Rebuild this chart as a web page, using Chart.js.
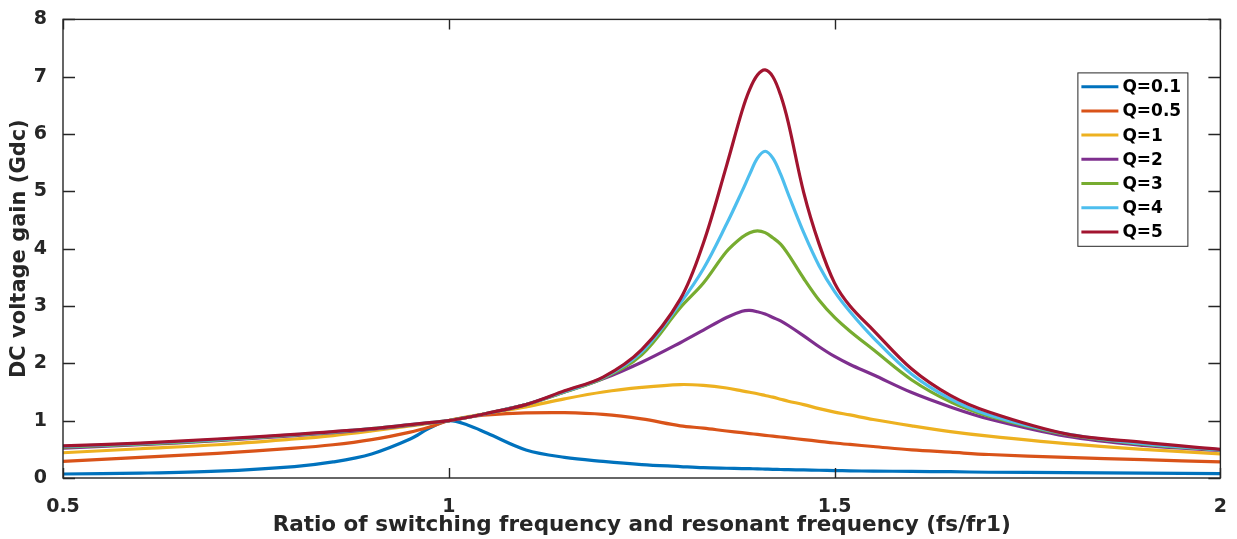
<!DOCTYPE html>
<html>
<head>
<meta charset="utf-8">
<script src="https://cdn.jsdelivr.net/npm/chart.js@4"></script>
<style>
  html, body { margin: 0; padding: 0; background: #fff; }
  #wrap { width: 1237px; height: 539px; }
</style>
</head>
<body>
<div id="wrap"><canvas id="gain" width="1237" height="539"></canvas></div>
<script>
// normalized frequency fs/fr1 (shared by all curves)
const xs = [0.5, 0.6, 0.7, 0.8, 0.85, 0.9, 0.95, 0.975, 1.0, 1.025, 1.05, 1.1, 1.15, 1.2, 1.25,
  1.3, 1.33, 1.36, 1.38, 1.39, 1.4, 1.41, 1.42, 1.43, 1.44, 1.46, 1.48, 1.5, 1.52, 1.55, 1.6, 1.65, 1.7, 1.8, 1.9, 2.0];

// gain curves
const q01 = [0.07, 0.085, 0.12, 0.2, 0.28, 0.42, 0.68, 0.87, 1.0, 0.92, 0.78, 0.49, 0.36, 0.29, 0.235,
  0.2, 0.18, 0.17, 0.165, 0.162, 0.16, 0.155, 0.15, 0.148, 0.145, 0.14, 0.135, 0.13, 0.125, 0.12, 0.115, 0.11, 0.1, 0.095, 0.085, 0.075];
const q05 = [0.29, 0.36, 0.43, 0.52, 0.58, 0.67, 0.8, 0.89, 1.0, 1.06, 1.1, 1.135, 1.14, 1.11, 1.03,
  0.91, 0.87, 0.82, 0.79, 0.775, 0.76, 0.745, 0.73, 0.715, 0.7, 0.67, 0.64, 0.61, 0.585, 0.55, 0.49, 0.45, 0.41, 0.36, 0.32, 0.28];
const q1 = [0.44, 0.51, 0.58, 0.68, 0.74, 0.82, 0.91, 0.955, 1.0, 1.07, 1.13, 1.24, 1.38, 1.5, 1.58,
  1.63, 1.615, 1.57, 1.52, 1.495, 1.47, 1.44, 1.41, 1.375, 1.34, 1.28, 1.21, 1.15, 1.1, 1.02, 0.91, 0.81, 0.73, 0.6, 0.5, 0.42];
const q2 = [0.52, 0.58, 0.65, 0.74, 0.79, 0.85, 0.92, 0.96, 1.0, 1.06, 1.13, 1.28, 1.5, 1.73, 2.02,
  2.36, 2.58, 2.8, 2.91, 2.925, 2.9, 2.86, 2.8, 2.74, 2.66, 2.48, 2.29, 2.12, 1.98, 1.8, 1.49, 1.24, 1.03, 0.73, 0.57, 0.48];
const q3 = [0.54, 0.59, 0.66, 0.75, 0.8, 0.86, 0.925, 0.963, 1.0, 1.06, 1.13, 1.28, 1.5, 1.74, 2.15,
  2.97, 3.4, 3.95, 4.2, 4.28, 4.31, 4.28, 4.19, 4.08, 3.9, 3.48, 3.1, 2.8, 2.56, 2.24, 1.71, 1.33, 1.08, 0.76, 0.59, 0.49];
const q4 = [0.55, 0.6, 0.67, 0.755, 0.805, 0.86, 0.93, 0.965, 1.0, 1.06, 1.13, 1.28, 1.51, 1.75, 2.2,
  3.05, 3.65, 4.43, 5.0, 5.3, 5.58, 5.7, 5.58, 5.3, 4.95, 4.28, 3.7, 3.25, 2.9, 2.45, 1.81, 1.38, 1.1, 0.77, 0.6, 0.49];
const q5 = [0.56, 0.61, 0.68, 0.76, 0.81, 0.86, 0.93, 0.965, 1.0, 1.06, 1.13, 1.28, 1.52, 1.76, 2.24,
  3.12, 4.1, 5.45, 6.4, 6.78, 7.03, 7.12, 7.0, 6.68, 6.2, 4.98, 4.08, 3.4, 3.0, 2.58, 1.9, 1.44, 1.15, 0.77, 0.62, 0.5];

const seriesLabels = ['Q=0.1', 'Q=0.5', 'Q=1', 'Q=2', 'Q=3', 'Q=4', 'Q=5'];
const seriesValues = [q01, q05, q1, q2, q3, q4, q5];
const seriesColors = ['#0072BD', '#D95319', '#EDB120', '#7E2F8E', '#77AC30', '#4DBEEE', '#A2142F'];

const xTicks = [0.5, 1, 1.5, 2];
const yTicks = [0, 1, 2, 3, 4, 5, 6, 7, 8];

const FONT = 'DejaVu Sans';
const INK = '#262626';

// matlab style box with inward ticks on all four sides
const boxPlugin = {
  id: 'box',
  afterDatasetsDraw(chart) {
    const { ctx, chartArea: a, scales } = chart;
    ctx.save();
    ctx.strokeStyle = INK;
    ctx.lineWidth = 1.4;
    ctx.strokeRect(a.left, a.top, a.right - a.left, a.bottom - a.top);
    ctx.beginPath();
    xTicks.forEach(v => {
      const px = Math.round(scales.x.getPixelForValue(v)) + 0.5;
      ctx.moveTo(px, a.bottom); ctx.lineTo(px, a.bottom - 10);
      ctx.moveTo(px, a.top); ctx.lineTo(px, a.top + 10);
    });
    yTicks.forEach(v => {
      const py = Math.round(scales.y.getPixelForValue(v)) + 0.5;
      ctx.moveTo(a.left, py); ctx.lineTo(a.left + 12, py);
      ctx.moveTo(a.right, py); ctx.lineTo(a.right - 12, py);
    });
    ctx.stroke();
    ctx.restore();
  }
};

// legend box in the upper right of the axes
const legendPlugin = {
  id: 'boxLegend',
  afterDraw(chart) {
    const { ctx, chartArea: a } = chart;
    const left = a.right - 143, top = a.top + 53, w = 110, rowH = 24.2;
    const h = rowH * seriesLabels.length + 4;
    ctx.save();
    ctx.fillStyle = '#fff';
    ctx.fillRect(left, top, w, h);
    ctx.strokeStyle = INK;
    ctx.lineWidth = 1;
    ctx.strokeRect(left + 0.5, top + 0.5, w, h);
    ctx.font = 'bold 17px "' + FONT + '"';
    ctx.textBaseline = 'middle';
    chart.data.datasets.forEach((ds, i) => {
      const cy = top + 14.3 + i * rowH;
      ctx.strokeStyle = ds.borderColor;
      ctx.lineWidth = 3;
      ctx.beginPath();
      ctx.moveTo(left + 4, cy);
      ctx.lineTo(left + 41, cy);
      ctx.stroke();
      ctx.fillStyle = '#000';
      ctx.fillText(ds.label, left + 45, cy + 1);
    });
    ctx.restore();
  }
};

const datasets = seriesValues.map((vals, i) => ({
  label: seriesLabels[i],
  data: xs.map((x, j) => ({ x: x, y: vals[j] })),
  borderColor: seriesColors[i],
  backgroundColor: seriesColors[i],
  borderWidth: 3.2,
  pointRadius: 0,
  tension: 0.35,
  fill: false,
  order: seriesLabels.length - i
}));

new Chart(document.getElementById('gain'), {
  type: 'line',
  data: { datasets: datasets },
  options: {
    responsive: false,
    animation: false,
    layout: { padding: { top: 16, right: 13, left: 0, bottom: 0 } },
    plugins: { legend: { display: false }, tooltip: { enabled: false } },
    scales: {
      x: {
        type: 'linear',
        min: 0.5, max: 2,
        afterFit(s) { s.height = 61; },
        afterBuildTicks(s) { s.ticks = xTicks.map(v => ({ value: v })); },
        grid: { display: false },
        border: { display: false },
        ticks: {
          color: INK, padding: 10, maxRotation: 0,
          font: { family: FONT, size: 19, weight: 'bold' },
          callback: v => String(v)
        },
        title: {
          display: true,
          text: 'Ratio of switching frequency and resonant frequency (fs/fr1)',
          color: INK,
          font: { family: FONT, size: 21.5, weight: 'bold' },
          padding: { top: 0, bottom: 1 }
        }
      },
      y: {
        type: 'linear',
        min: 0, max: 8,
        afterFit(s) { s.width = 63; },
        afterBuildTicks(s) { s.ticks = yTicks.map(v => ({ value: v })); },
        grid: { display: false },
        border: { display: false },
        ticks: {
          color: INK, padding: 8,
          font: { family: FONT, size: 19, weight: 'bold' }
        },
        title: {
          display: true,
          text: 'DC voltage gain (Gdc)',
          color: INK,
          font: { family: FONT, size: 21, weight: 'bold' },
          padding: { top: 7, bottom: 0 }
        }
      }
    }
  },
  plugins: [boxPlugin, legendPlugin]
});
</script>
</body>
</html>
